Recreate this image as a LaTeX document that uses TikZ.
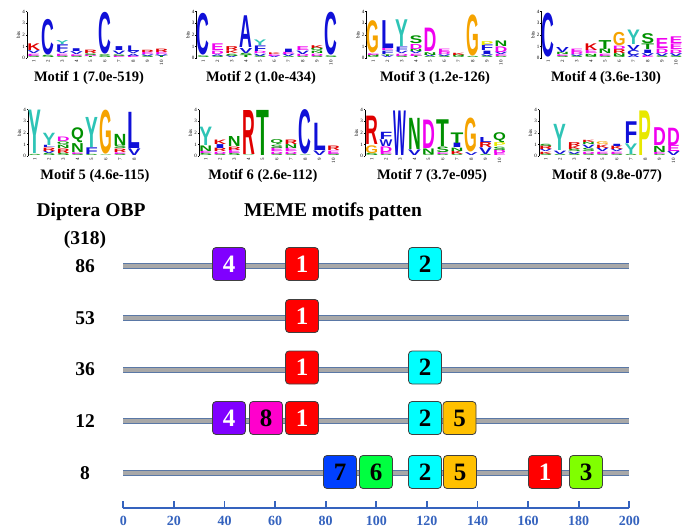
\documentclass[tikz,border=0pt]{standalone}
\usepackage{fontspec}
\usepackage{graphicx}
\setmainfont{Liberation Serif}
\newfontfamily\logofont{Liberation Sans}
\definecolor{lgB}{HTML}{1010D8}
\definecolor{lgR}{HTML}{E00000}
\definecolor{lgM}{HTML}{F000F0}
\definecolor{lgG}{HTML}{009000}
\definecolor{lgO}{HTML}{F5A300}
\definecolor{lgY}{HTML}{E8E800}
\definecolor{lgT}{HTML}{2EC4B6}
\definecolor{m1}{HTML}{FF0000}
\definecolor{m2}{HTML}{00FFFF}
\definecolor{m3}{HTML}{80FF00}
\definecolor{m4}{HTML}{8000FF}
\definecolor{m5}{HTML}{FFC000}
\definecolor{m6}{HTML}{00FF40}
\definecolor{m7}{HTML}{0040FF}
\definecolor{m8}{HTML}{FF00CC}
\definecolor{axblue}{HTML}{3563BE}
\definecolor{barin}{HTML}{A8A8A8}
\definecolor{barout}{HTML}{5A78A6}
\newcommand\setaacol[2]{\expandafter\def\csname aacol#1\endcsname{#2}}
\setaacol{A}{lgB}\setaacol{C}{lgB}\setaacol{F}{lgB}\setaacol{I}{lgB}
\setaacol{L}{lgB}\setaacol{V}{lgB}\setaacol{W}{lgB}\setaacol{M}{lgB}
\setaacol{K}{lgR}\setaacol{R}{lgR}
\setaacol{D}{lgM}\setaacol{E}{lgM}
\setaacol{N}{lgG}\setaacol{Q}{lgG}\setaacol{S}{lgG}\setaacol{T}{lgG}
\setaacol{G}{lgO}\setaacol{P}{lgY}\setaacol{Y}{lgT}\setaacol{H}{lgT}
\def\bitpx{11.6}
\tikzset{
  tinylab/.style={font=\fontsize{5}{5}\selectfont, inner sep=0.4pt},
  logoaxis/.style={line width=0.5pt, black},
  caption/.style={font=\fontsize{14.5}{16}\selectfont\bfseries, inner sep=0},
  biglab/.style={font=\fontsize{19.5}{22}\selectfont\bfseries, inner sep=0},
  mbox/.style={draw=black!75, rounded corners=3.5pt, minimum width=33pt, minimum height=33pt, inner sep=0, font=\fontsize{25}{25}\selectfont\bfseries, line width=0.8pt},
  barO/.style={line width=6pt, barout},
  barI/.style={line width=4pt, barin},
  axl/.style={axblue, line width=2.2pt},
  ticklab/.style={text=axblue, font=\fontsize{14}{14}\selectfont\bfseries, inner sep=0}
}
\newcommand\logo[5]{%
  \draw[logoaxis] (#1,#2) -- (#1,#2-4*\bitpx);
  \foreach \k in {0,...,4} {
    \draw[logoaxis] (#1,#2-\k*\bitpx) -- ++(-1.5,0);
    \node[tinylab, anchor=east] at (#1-1.6,#2-\k*\bitpx) {\k};
  }
  \node[tinylab, rotate=90] at (#1-8.5,#2-2*\bitpx) {bits};
  \foreach \col [count=\i] in {#5} {
    \pgfmathsetmacro\cx{#1+6.8+(\i-1)*14.2}
    \xdef\cury{#2}
    \foreach \L/\h in \col {
      \pgfmathsetmacro\hh{\h*\bitpx}
      \pgfmathsetmacro\lh{0.96*\hh}
      \edef\cc{\csname aacol\L\endcsname}
      \node[inner sep=0, anchor=center, text=\cc] at (\cx,\cury-0.5*\hh) {\resizebox*{12.8pt}{\lh pt}{\logofont\bfseries \L}};
      \pgfmathsetmacro\ny{\cury-\hh}
      \xdef\cury{\ny}
    }
    \node[tinylab, rotate=90, anchor=east] at (\cx,#2+1.5) {\i};
  }
  \node[caption] at (#3,#2+20) {#4};
}
\begin{document}
\begin{tikzpicture}[x=1pt,y=-1pt]
\useasboundingbox (0,0) rectangle (686,530);
% ---------- logos, row 1 ----------
\logo{27}{58}{89}{Motif 1 (7.0e-519)}{{S/.15,E/.2,V/.25,K/.6},{S/.2,C/3.2},{S/.15,E/.2,V/.2,F/.6,Y/.35},{S/.15,E/.15,V/.25,I/.25},{T/.1,D/.15,S/.15,R/.3},{S/.25,C/3.75},{E/.15,S/.15,V/.3,I/.35},{E/.15,A/.2,V/.2,L/.5},{S/.15,V/.15,E/.2,R/.2},{T/.15,V/.15,E/.2,R/.3}}
\logo{196.5}{58}{261}{Motif 2 (1.0e-434)}{{S/.15,C/3.75},{S/.15,A/.15,D/.3,E/.6},{V/.15,S/.2,K/.25,R/.35},{T/.2,S/.2,V/.45,A/2.85},{S/.15,V/.2,D/.2,F/.5,Y/.5},{V/.15,E/.15,K/.15},{S/.1,V/.2,E/.2,I/.3},{S/.1,D/.2,V/.3,E/.35},{S/.15,D/.2,N/.2,Q/.3,K/.25},{S/.15,C/3.85}}
\logo{366.5}{58}{435}{Motif 3 (1.2e-126)}{{S/.1,N/.15,E/.15,G/2.9},{V/.15,T/.15,F/.3,E/.2,L/2.5},{S/.15,D/.2,V/.2,F/.4,Y/2.4},{T/.15,E/.2,V/.2,N/.2,D/.45,S/.7},{S/.1,V/.15,N/.25,D/2.1},{S/.15,V/.15,D/.2,E/.3},{S/.1,N/.15,K/.2},{S/.1,G/3.7},{S/.15,V/.15,I/.3,F/.5,P/.35},{S/.1,E/.2,V/.2,D/.5,N/.5}}
\logo{541.5}{58}{606}{Motif 4 (3.6e-130)}{{C/3.95},{S/.15,E/.15,N/.2,V/.45},{S/.15,V/.15,D/.2,E/.3},{S/.15,N/.2,E/.3,K/.6},{S/.15,E/.2,N/.4,T/.8},{S/.15,N/.25,R/.35,D/.3,G/1.2},{A/.2,C/.45,V/.45,Y/1.3},{E/.15,V/.25,I/.3,T/.5,S/.9},{S/.15,V/.25,D/.4,E/.9},{S/.15,V/.25,D/.3,E/.5,E/.6}}
% ---------- logos, row 2 ----------
\logo{28}{156}{95}{Motif 5 (4.6e-115)}{{S/.1,Y/3.9},{S/.2,V/.2,R/.3,L/.2,Y/1.1},{S/.2,R/.4,N/.3,Q/.3,D/.4},{S/.15,E/.15,N/.8,Q/1.35},{S/.1,F/.6,Y/2.7},{S/.05,G/3.95},{S/.15,E/.15,R/.3,S/.3,N/1.0},{V/.6,L/3.25}}
\logo{199}{156}{263}{Motif 6 (2.6e-112)}{{S/.2,E/.2,N/.5,Y/1.65},{S/.15,D/.2,R/.3,I/.35,K/.4},{S/.2,E/.3,R/.3,N/.9},{S/.05,R/3.95},{T/4.05},{S/.15,D/.2,E/.3,S/.3,Q/.45},{S/.15,D/.2,E/.3,N/.35,R/.4},{S/.05,C/4.0},{V/.4,L/2.45},{S/.15,E/.3,R/.4}}
\logo{365}{156}{432}{Motif 7 (3.7e-095)}{{S/.2,G/.7,R/2.55},{S/.1,E/.2,D/.5,W/.6,F/.65},{W/4.0},{V/.5,N/2.8},{S/.1,N/.5,D/2.55},{S/.1,E/.15,S/.5,T/2.4},{S/.1,K/.3,N/.3,I/.4,T/.95},{V/.25,G/3.05},{S/.1,V/.6,R/.45,L/.45},{E/.2,D/.3,S/.3,P/.35,Q/.9}}
\logo{539}{156}{607}{Motif 8 (9.8e-077)}{{S/.15,K/.2,V/.2,R/.3,S/.2},{S/.1,V/.3,Y/2.35},{S/.15,V/.2,S/.2,K/.3,R/.35},{S/.15,D/.2,S/.3,V/.3,N/.2,K/.2},{S/.15,E/.2,V/.3,K/.3,G/.25},{S/.15,E/.2,V/.2,K/.3,I/.2},{S/.1,Y/.95,F/1.95},{P/4.0},{S/.1,E/.2,N/.55,D/1.6},{V/.35,E/.55,D/1.55}}
% ---------- headings ----------
\node[biglab] (hdip) at (91,212) {Diptera OBP};
\node[biglab] (hnum) at (85,240) {(318)};
\node[biglab, anchor=west] (hmeme) at (244,212) {MEME motifs patten};
% ---------- rows ----------
\foreach \r/\y/\lab in {1/266/86,2/318/53,3/369.5/36,4/421/12,5/473/8} {
  \node[biglab] (lab\r) at (85,\y) {\lab};
  \coordinate (rs\r) at (123.3,\y);
  \coordinate (re\r) at (629.3,\y);
  \draw[barO] (rs\r) -- (re\r);
  \draw[barI] (rs\r) -- (re\r);
}
% row 86
\node[mbox, fill=m4, text=white] (a4) at (229,264) {4};
\node[mbox, fill=m1, text=white] (a1) at (302,264) {1};
\node[mbox, fill=m2] (a2) at (425,264) {2};
% row 53
\node[mbox, fill=m1, text=white] (b1) at (302,316) {1};
% row 36
\node[mbox, fill=m1, text=white] (c1) at (302,367.5) {1};
\node[mbox, fill=m2] (c2) at (425,367.5) {2};
% row 12
\node[mbox, fill=m4, text=white] (d4) at (229,418) {4};
\node[mbox, fill=m8] (d8) at (266,418) {8};
\node[mbox, fill=m1, text=white] (d1) at (302,418) {1};
\node[mbox, fill=m2] (d2) at (425,418) {2};
\node[mbox, fill=m5] (d5) at (459.5,418) {5};
% row 8
\node[mbox, fill=m7] (e7) at (340,472) {7};
\node[mbox, fill=m6] (e6) at (376,472) {6};
\node[mbox, fill=m2] (e2) at (425,472) {2};
\node[mbox, fill=m5] (e5) at (460,472) {5};
\node[mbox, fill=m1, text=white] (e1) at (545,472) {1};
\node[mbox, fill=m3] (e3) at (586,472) {3};
% ---------- axis ----------
\coordinate (ax0) at (123.3,508.3);
\coordinate (ax1) at (629.3,508.3);
\draw[axl] (ax0) -- (ax1);
\foreach \v in {0,20,...,200} {
  \coordinate (t\v) at (123.3+2.53*\v,508.3);
  \draw[axl, line width=1.8pt] (t\v) -- ++(0,-7.5);
  \node[ticklab] (tl\v) at (123.3+2.53*\v,520.5) {\v};
}
\end{tikzpicture}
\end{document}
